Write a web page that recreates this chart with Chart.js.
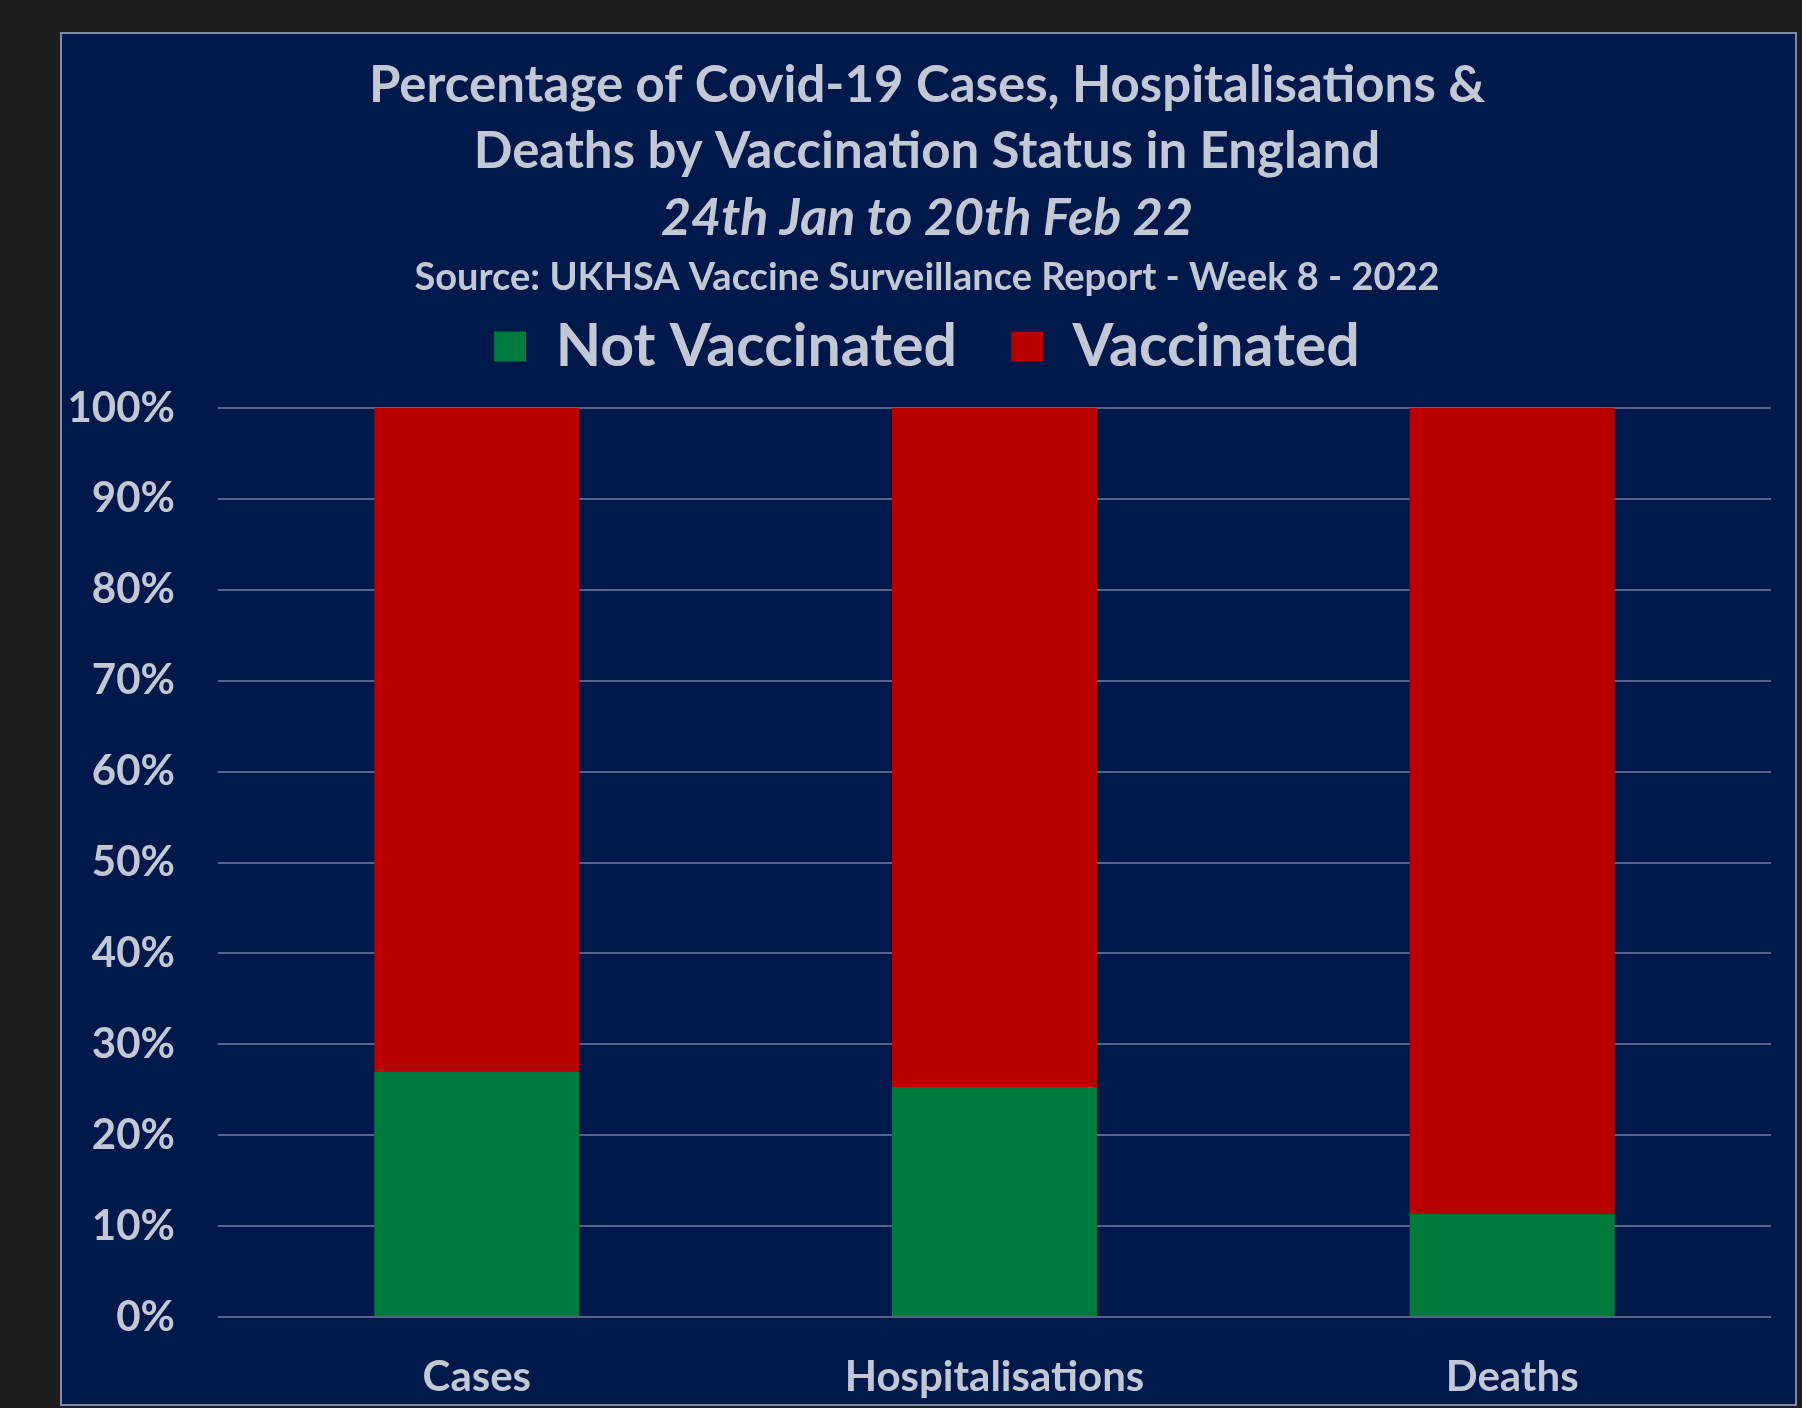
<!DOCTYPE html>
<html>
<head>
<meta charset="utf-8">
<script src="https://cdn.jsdelivr.net/npm/chart.js@4.4.1/dist/chart.umd.min.js"></script>
<style>
  html, body { margin: 0; padding: 0; background: #1e1e1e; overflow: hidden; }
  #panel {
    position: absolute; left: 60px; top: 32px; width: 1733px; height: 1370px;
    background: #00194a; border: 2px solid #7f89a3;
  }
  #wrap { position: absolute; left: 0; top: 0; width: 1802px; height: 1408px; }
</style>
</head>
<body>
<div id="panel"></div>
<div id="wrap"><canvas id="chart"></canvas></div>
<script>
// data
const categories = ['Cases', 'Hospitalisations', 'Deaths']
const notVaccinated = [27.0, 25.3, 11.3]
const vaccinated = [73.0, 74.7, 88.7]

const titleLines = ['Percentage of Covid-19 Cases, Hospitalisations &', 'Deaths by Vaccination Status in England']
const periodText = '24th Jan to 20th Feb 22'
const sourceText = 'Source: UKHSA Vaccine Surveillance Report - Week 8 - 2022'

const textColor = '#c3c8d6'
const greenColor = '#007a3d'
const redColor = '#b80000'
const gridColor = '#53638c'

Chart.defaults.font.family = 'Lato'
Chart.defaults.font.weight = 'bold'
Chart.defaults.color = textColor

var ctx = document.getElementById('chart')

var barChart = new Chart(ctx, {
  type: 'bar',
  data: {
    labels: categories,
    datasets: [{
      label: 'Not Vaccinated',
      data: notVaccinated,
      xAxisID: 'x',
      yAxisID: 'y',
      backgroundColor: greenColor,
      borderWidth: 0,
      barPercentage: 0.396,
      categoryPercentage: 1
    }, {
      label: 'Vaccinated',
      data: vaccinated,
      xAxisID: 'x',
      yAxisID: 'y',
      backgroundColor: redColor,
      borderWidth: 0,
      barPercentage: 0.396,
      categoryPercentage: 1
    }]
  },
  options: {
    responsive: true,
    maintainAspectRatio: false,
    animation: false,
    layout: { padding: { left: 52, right: 0, top: 0, bottom: 0 } },
    plugins: {
      tooltip: { enabled: false },
      title: {
        display: true,
        text: titleLines,
        color: textColor,
        font: { size: 51, weight: 'bold', lineHeight: '66px' },
        padding: { top: 53, bottom: 0 }
      },
      subtitle: {
        display: true,
        text: periodText,
        color: textColor,
        font: { size: 52, weight: 'bold', style: 'italic', lineHeight: 1 },
        padding: { top: 7, bottom: 0 }
      },
      legend: {
        position: 'top',
        title: {
          display: true,
          text: sourceText,
          color: textColor,
          font: { size: 38, weight: 'bold', lineHeight: 0 },
          padding: { top: 15, bottom: 4 }
        },
        labels: {
          color: textColor,
          font: { size: 59, weight: 'bold' },
          boxWidth: 32,
          boxHeight: 30,
          padding: 54
        }
      }
    },
    scales: {
      x: {
        stacked: true,
        grid: { display: false, drawTicks: false },
        border: { display: false },
        ticks: { color: textColor, font: { size: 42, weight: 'bold' }, padding: 35 },
        afterFit: function(scale) { scale.height = 91 }
      },
      y: {
        stacked: true,
        min: 0,
        max: 100,
        border: { display: false },
        grid: { color: gridColor, lineWidth: 2, drawTicks: false },
        ticks: {
          stepSize: 10,
          padding: 43,
          color: textColor,
          font: { size: 42, weight: 'bold' },
          callback: function(v) { return v + '%' }
        },
        afterFit: function(scale) { scale.width = 166 }
      },
      // empty strips: between legend and plot, and right of the plot
      spacer: {
        type: 'category',
        position: 'top',
        grid: { display: false, drawTicks: false },
        border: { display: false },
        ticks: { display: false },
        afterFit: function(scale) { scale.height = 22 }
      },
      spacerRight: {
        type: 'linear',
        position: 'right',
        grid: { display: false, drawTicks: false },
        border: { display: false },
        ticks: { display: false },
        afterFit: function(scale) { scale.width = 31 }
      }
    }
  }
});
</script>
</body>
</html>
